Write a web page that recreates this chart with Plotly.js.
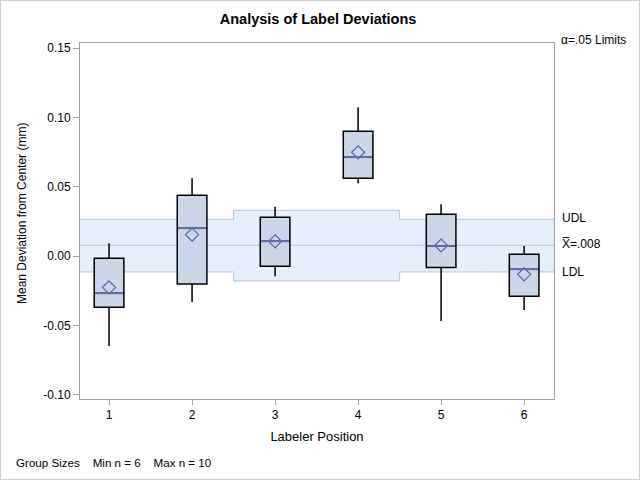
<!DOCTYPE html>
<html>
<head>
<meta charset="utf-8">
<script src="https://cdn.plot.ly/plotly-3.0.1.min.js"></script>
<style>
  html, body { margin: 0; padding: 0; background: #fff; }
  #wrap { width: 638px; height: 478px; border: 1px solid #cfcfcf; }
  #chart { width: 638px; height: 478px; }
</style>
</head>
<body>
<div id="wrap"><div id="chart"></div></div>
<script>
// ---- data ----
const positions   = [1, 2, 3, 4, 5, 6];
const whiskerHigh = [0.0094, 0.0562, 0.0358, 0.1075, 0.0375, 0.0074];
const q3Values    = [-0.0014, 0.0440, 0.0281, 0.0901, 0.0303, 0.0014];
const medians     = [-0.0267, 0.0202, 0.0108, 0.0714, 0.0074, -0.0094];
const means       = [-0.0224, 0.0156, 0.0108, 0.0750, 0.0078, -0.0130];
const q1Values    = [-0.0368, -0.0200, -0.0072, 0.0563, -0.0080, -0.0288];
const whiskerLow  = [-0.0647, -0.0332, -0.0144, 0.0526, -0.0467, -0.0387];
const udl         = [0.0267, 0.0267, 0.0332, 0.0332, 0.0267, 0.0267];
const ldl         = [-0.0113, -0.0113, -0.0178, -0.0178, -0.0113, -0.0113];
const centerLine  = 0.008;
const xRange      = [0.65, 6.36];
const yRange      = [-0.1029, 0.1538];
const yTicks      = [-0.10, -0.05, 0.00, 0.05, 0.10, 0.15];

const FONT = 'Liberation Sans, Arial, sans-serif';
const boxW = 0.357;
const BAND_LINE = '#b9c4d8';

// step-function points for the decision limits, clipped to the x range
function stepPoints(vals) {
  const pts = [];
  positions.forEach((p, i) => {
    const a = Math.max(p - 0.5, xRange[0]);
    const b = Math.min(p + 0.5, xRange[1]);
    pts.push([a, vals[i]], [b, vals[i]]);
  });
  return pts;
}
const upPts = stepPoints(udl);
const loPts = stepPoints(ldl);
const toPath = pts => pts.map((q, k) => (k === 0 ? 'M' : 'L') + q[0] + ',' + q[1]).join(' ');
const bandPath = toPath(upPts.concat(loPts.slice().reverse())) + ' Z';

const shapes = [
  { type: 'path', xref: 'x', yref: 'y', path: bandPath, fillcolor: '#e6f0fd', line: { width: 0 }, layer: 'below' },
  { type: 'path', xref: 'x', yref: 'y', path: toPath(upPts), line: { color: BAND_LINE, width: 1 }, layer: 'below' },
  { type: 'path', xref: 'x', yref: 'y', path: toPath(loPts), line: { color: BAND_LINE, width: 1 }, layer: 'below' },
  { type: 'line', xref: 'x', yref: 'y', x0: xRange[0], x1: xRange[1], y0: centerLine, y1: centerLine,
    line: { color: BAND_LINE, width: 1 }, layer: 'below' }
].concat(positions.map((p, i) => ({
  type: 'line', xref: 'x', yref: 'y', x0: p - boxW / 2 + 0.01, x1: p + boxW / 2 - 0.01,
  y0: medians[i], y1: medians[i], line: { color: '#6170b2', width: 1.7 }, layer: 'above'
})));

const traces = [
  { type: 'box', x: positions, q1: q1Values, median: medians, q3: q3Values,
    lowerfence: whiskerLow, upperfence: whiskerHigh, width: boxW, whiskerwidth: 0,
    fillcolor: '#cbd6e6', line: { color: '#000000', width: 1.5 }, showlegend: false, hoverinfo: 'skip' },
  { x: positions, y: means, type: 'scatter', mode: 'markers',
    marker: { symbol: 'diamond-open', size: 10, color: '#5566aa', line: { width: 1.2, color: '#5566aa' } },
    showlegend: false, hoverinfo: 'skip' }
];

const annotations = [
  { text: 'α=.05 Limits', xref: 'paper', yref: 'paper', x: 1, y: 1, xanchor: 'left', yanchor: 'middle',
    xshift: 5, yshift: 3, showarrow: false, font: { family: FONT, size: 12, color: '#000' } },
  { text: 'UDL', xref: 'paper', yref: 'y', x: 1, y: udl[udl.length - 1], xanchor: 'left', yanchor: 'middle',
    xshift: 6, yshift: 1, showarrow: false, font: { family: FONT, size: 12, color: '#000' } },
  { text: 'X\u0305=.008', xref: 'paper', yref: 'y', x: 1, y: centerLine, xanchor: 'left', yanchor: 'middle',
    xshift: 6, yshift: 1, showarrow: false, font: { family: FONT, size: 12, color: '#000' } },
  { text: 'LDL', xref: 'paper', yref: 'y', x: 1, y: ldl[ldl.length - 1], xanchor: 'left', yanchor: 'middle',
    xshift: 6, yshift: 0, showarrow: false, font: { family: FONT, size: 12, color: '#000' } },
  { text: 'Group Sizes&nbsp;&nbsp;&nbsp;&nbsp;Min n = 6&nbsp;&nbsp;&nbsp;&nbsp;Max n = 10', xref: 'paper', yref: 'paper',
    x: 0, y: 0, xanchor: 'left', yanchor: 'middle', xshift: -66, yshift: -63, showarrow: false,
    font: { family: FONT, size: 11.6, color: '#000' } },
  { text: 'Mean Deviation from Center (mm)', xref: 'paper', yref: 'paper', x: 0, y: 0.5, xanchor: 'center', yanchor: 'middle',
    xshift: -58, yshift: 7, textangle: -90, showarrow: false, font: { family: FONT, size: 12, color: '#000' } }
];

const layout = {
  width: 638, height: 478,
  margin: { l: 79, r: 85, t: 42, b: 80, pad: 0 },
  paper_bgcolor: '#ffffff', plot_bgcolor: '#ffffff',
  font: { family: FONT, size: 12, color: '#000' },
  title: { text: '<b>Analysis of Label Deviations</b>', x: 0.497, xanchor: 'center', y: 0.962, yanchor: 'middle',
    font: { family: FONT, size: 14.5, color: '#000' } },
  xaxis: {
    range: xRange, tickvals: positions, ticktext: positions.map(String),
    showgrid: false, zeroline: false, showline: true, mirror: true, linecolor: '#a0a0a0', linewidth: 1,
    ticks: 'outside', ticklen: 5, tickcolor: '#a0a0a0', tickfont: { family: FONT, size: 12, color: '#000' },
    title: { text: 'Labeler Position', standoff: 10, font: { family: FONT, size: 13, color: '#000' } }
  },
  yaxis: {
    range: yRange, tickvals: yTicks, ticktext: yTicks.map(v => v.toFixed(2)),
    showgrid: false, zeroline: false, showline: true, mirror: true, linecolor: '#a0a0a0', linewidth: 1,
    ticks: 'outside', ticklen: 6, tickcolor: '#a0a0a0', tickfont: { family: FONT, size: 12, color: '#000' }
  },
  shapes: shapes,
  annotations: annotations,
  showlegend: false
};

Plotly.newPlot('chart', traces, layout, { displayModeBar: false, staticPlot: true });
</script>
</body>
</html>
